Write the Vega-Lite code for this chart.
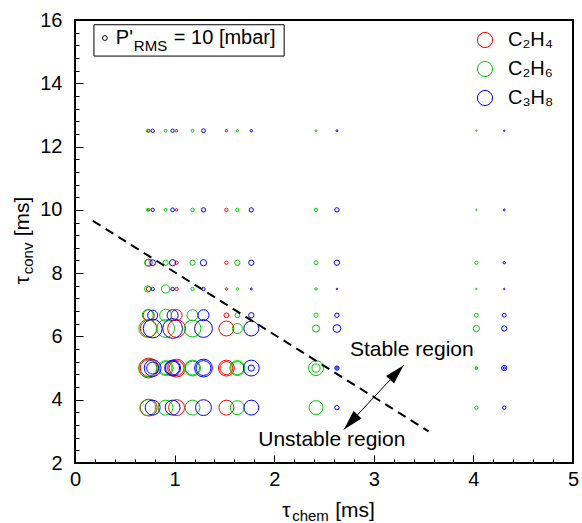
{
  "$schema": "https://vega.github.io/schema/vega-lite/v6.json",
  "width": 498,
  "height": 443,
  "autosize": {"type": "none"},
  "padding": {"left": 75, "top": 20, "right": 9, "bottom": 60},
  "background": "white",
  "config": {"font": "Liberation Sans", "view": {"stroke": "black", "strokeWidth": 2}},
  "datasets": {
    "points": [
      {"species": "C₂H₄", "tau_chem": 0.74, "tau_conv": 12.5, "p_rms": 6},
      {"species": "C₂H₄", "tau_chem": 1.02, "tau_conv": 12.5, "p_rms": 5},
      {"species": "C₂H₄", "tau_chem": 1.52, "tau_conv": 12.5, "p_rms": 5},
      {"species": "C₂H₆", "tau_chem": 0.73, "tau_conv": 12.5, "p_rms": 6},
      {"species": "C₂H₆", "tau_chem": 0.91, "tau_conv": 12.5, "p_rms": 6},
      {"species": "C₂H₆", "tau_chem": 1.18, "tau_conv": 12.5, "p_rms": 6},
      {"species": "C₂H₆", "tau_chem": 1.63, "tau_conv": 12.5, "p_rms": 4.5},
      {"species": "C₂H₆", "tau_chem": 2.42, "tau_conv": 12.5, "p_rms": 4},
      {"species": "C₂H₆", "tau_chem": 4.03, "tau_conv": 12.5, "p_rms": 3},
      {"species": "C₃H₈", "tau_chem": 0.78, "tau_conv": 12.5, "p_rms": 7},
      {"species": "C₃H₈", "tau_chem": 0.98, "tau_conv": 12.5, "p_rms": 7},
      {"species": "C₃H₈", "tau_chem": 1.29, "tau_conv": 12.5, "p_rms": 8},
      {"species": "C₃H₈", "tau_chem": 1.77, "tau_conv": 12.5, "p_rms": 5},
      {"species": "C₃H₈", "tau_chem": 2.63, "tau_conv": 12.5, "p_rms": 4},
      {"species": "C₃H₈", "tau_chem": 4.31, "tau_conv": 12.5, "p_rms": 3},

      {"species": "C₂H₄", "tau_chem": 0.74, "tau_conv": 10, "p_rms": 5},
      {"species": "C₂H₄", "tau_chem": 1.02, "tau_conv": 10, "p_rms": 5},
      {"species": "C₂H₄", "tau_chem": 1.52, "tau_conv": 10, "p_rms": 7},
      {"species": "C₂H₆", "tau_chem": 0.73, "tau_conv": 10, "p_rms": 6},
      {"species": "C₂H₆", "tau_chem": 0.91, "tau_conv": 10, "p_rms": 6},
      {"species": "C₂H₆", "tau_chem": 1.18, "tau_conv": 10, "p_rms": 7},
      {"species": "C₂H₆", "tau_chem": 1.63, "tau_conv": 10, "p_rms": 7},
      {"species": "C₂H₆", "tau_chem": 2.42, "tau_conv": 10, "p_rms": 7},
      {"species": "C₂H₆", "tau_chem": 4.03, "tau_conv": 10, "p_rms": 3},
      {"species": "C₃H₈", "tau_chem": 0.78, "tau_conv": 10, "p_rms": 7},
      {"species": "C₃H₈", "tau_chem": 0.98, "tau_conv": 10, "p_rms": 8},
      {"species": "C₃H₈", "tau_chem": 1.29, "tau_conv": 10, "p_rms": 9},
      {"species": "C₃H₈", "tau_chem": 1.77, "tau_conv": 10, "p_rms": 9},
      {"species": "C₃H₈", "tau_chem": 2.63, "tau_conv": 10, "p_rms": 9},
      {"species": "C₃H₈", "tau_chem": 4.31, "tau_conv": 10, "p_rms": 4},

      {"species": "C₂H₄", "tau_chem": 0.74, "tau_conv": 8.33, "p_rms": 15},
      {"species": "C₂H₄", "tau_chem": 1.02, "tau_conv": 8.33, "p_rms": 7},
      {"species": "C₂H₄", "tau_chem": 1.52, "tau_conv": 8.33, "p_rms": 7},
      {"species": "C₂H₆", "tau_chem": 0.73, "tau_conv": 8.33, "p_rms": 13},
      {"species": "C₂H₆", "tau_chem": 0.91, "tau_conv": 8.33, "p_rms": 11},
      {"species": "C₂H₆", "tau_chem": 1.18, "tau_conv": 8.33, "p_rms": 11},
      {"species": "C₂H₆", "tau_chem": 1.63, "tau_conv": 8.33, "p_rms": 11},
      {"species": "C₂H₆", "tau_chem": 2.42, "tau_conv": 8.33, "p_rms": 8},
      {"species": "C₂H₆", "tau_chem": 4.03, "tau_conv": 8.33, "p_rms": 7},
      {"species": "C₃H₈", "tau_chem": 0.78, "tau_conv": 8.33, "p_rms": 12},
      {"species": "C₃H₈", "tau_chem": 0.98, "tau_conv": 8.33, "p_rms": 13},
      {"species": "C₃H₈", "tau_chem": 1.29, "tau_conv": 8.33, "p_rms": 13},
      {"species": "C₃H₈", "tau_chem": 1.77, "tau_conv": 8.33, "p_rms": 11},
      {"species": "C₃H₈", "tau_chem": 2.63, "tau_conv": 8.33, "p_rms": 11},
      {"species": "C₃H₈", "tau_chem": 4.31, "tau_conv": 8.33, "p_rms": 5},

      {"species": "C₂H₄", "tau_chem": 0.74, "tau_conv": 7.5, "p_rms": 10},
      {"species": "C₂H₄", "tau_chem": 1.02, "tau_conv": 7.5, "p_rms": 7},
      {"species": "C₂H₄", "tau_chem": 1.52, "tau_conv": 7.5, "p_rms": 5},
      {"species": "C₂H₆", "tau_chem": 0.73, "tau_conv": 7.5, "p_rms": 13},
      {"species": "C₂H₆", "tau_chem": 0.91, "tau_conv": 7.5, "p_rms": 17},
      {"species": "C₂H₆", "tau_chem": 1.18, "tau_conv": 7.5, "p_rms": 7},
      {"species": "C₂H₆", "tau_chem": 1.63, "tau_conv": 7.5, "p_rms": 5},
      {"species": "C₂H₆", "tau_chem": 2.42, "tau_conv": 7.5, "p_rms": 5},
      {"species": "C₂H₆", "tau_chem": 4.03, "tau_conv": 7.5, "p_rms": 3},
      {"species": "C₃H₈", "tau_chem": 0.78, "tau_conv": 7.5, "p_rms": 7},
      {"species": "C₃H₈", "tau_chem": 0.98, "tau_conv": 7.5, "p_rms": 7},
      {"species": "C₃H₈", "tau_chem": 1.29, "tau_conv": 7.5, "p_rms": 7},
      {"species": "C₃H₈", "tau_chem": 1.77, "tau_conv": 7.5, "p_rms": 4},
      {"species": "C₃H₈", "tau_chem": 2.63, "tau_conv": 7.5, "p_rms": 3},
      {"species": "C₃H₈", "tau_chem": 4.31, "tau_conv": 7.5, "p_rms": 3},

      {"species": "C₂H₄", "tau_chem": 0.74, "tau_conv": 6.67, "p_rms": 23},
      {"species": "C₂H₄", "tau_chem": 1.02, "tau_conv": 6.67, "p_rms": 23},
      {"species": "C₂H₄", "tau_chem": 1.52, "tau_conv": 6.67, "p_rms": 10},
      {"species": "C₂H₆", "tau_chem": 0.73, "tau_conv": 6.67, "p_rms": 23},
      {"species": "C₂H₆", "tau_chem": 0.91, "tau_conv": 6.67, "p_rms": 25},
      {"species": "C₂H₆", "tau_chem": 1.18, "tau_conv": 6.67, "p_rms": 23},
      {"species": "C₂H₆", "tau_chem": 1.63, "tau_conv": 6.67, "p_rms": 10},
      {"species": "C₂H₆", "tau_chem": 2.42, "tau_conv": 6.67, "p_rms": 9},
      {"species": "C₂H₆", "tau_chem": 4.03, "tau_conv": 6.67, "p_rms": 8},
      {"species": "C₃H₈", "tau_chem": 0.78, "tau_conv": 6.67, "p_rms": 21},
      {"species": "C₃H₈", "tau_chem": 0.98, "tau_conv": 6.67, "p_rms": 23},
      {"species": "C₃H₈", "tau_chem": 1.29, "tau_conv": 6.67, "p_rms": 23},
      {"species": "C₃H₈", "tau_chem": 1.77, "tau_conv": 6.67, "p_rms": 11},
      {"species": "C₃H₈", "tau_chem": 2.63, "tau_conv": 6.67, "p_rms": 9},
      {"species": "C₃H₈", "tau_chem": 4.31, "tau_conv": 6.67, "p_rms": 8},

      {"species": "C₂H₄", "tau_chem": 0.74, "tau_conv": 6.25, "p_rms": 35},
      {"species": "C₂H₄", "tau_chem": 1.02, "tau_conv": 6.25, "p_rms": 37},
      {"species": "C₂H₄", "tau_chem": 1.52, "tau_conv": 6.25, "p_rms": 31},
      {"species": "C₂H₆", "tau_chem": 0.73, "tau_conv": 6.25, "p_rms": 37},
      {"species": "C₂H₆", "tau_chem": 0.91, "tau_conv": 6.25, "p_rms": 37},
      {"species": "C₂H₆", "tau_chem": 1.18, "tau_conv": 6.25, "p_rms": 35},
      {"species": "C₂H₆", "tau_chem": 1.63, "tau_conv": 6.25, "p_rms": 21},
      {"species": "C₂H₆", "tau_chem": 2.42, "tau_conv": 6.25, "p_rms": 15},
      {"species": "C₂H₆", "tau_chem": 4.03, "tau_conv": 6.25, "p_rms": 13},
      {"species": "C₃H₈", "tau_chem": 0.78, "tau_conv": 6.25, "p_rms": 39},
      {"species": "C₃H₈", "tau_chem": 0.98, "tau_conv": 6.25, "p_rms": 41},
      {"species": "C₃H₈", "tau_chem": 1.29, "tau_conv": 6.25, "p_rms": 37},
      {"species": "C₃H₈", "tau_chem": 1.77, "tau_conv": 6.25, "p_rms": 31},
      {"species": "C₃H₈", "tau_chem": 2.63, "tau_conv": 6.25, "p_rms": 16},
      {"species": "C₃H₈", "tau_chem": 4.31, "tau_conv": 6.25, "p_rms": 11},

      {"species": "C₂H₄", "tau_chem": 0.74, "tau_conv": 5, "p_rms": 41},
      {"species": "C₂H₄", "tau_chem": 0.74, "tau_conv": 5, "p_rms": 35},
      {"species": "C₂H₄", "tau_chem": 1.02, "tau_conv": 5, "p_rms": 37},
      {"species": "C₂H₄", "tau_chem": 1.02, "tau_conv": 5, "p_rms": 31},
      {"species": "C₂H₄", "tau_chem": 1.52, "tau_conv": 5, "p_rms": 33},
      {"species": "C₂H₄", "tau_chem": 1.52, "tau_conv": 5, "p_rms": 27},
      {"species": "C₂H₆", "tau_chem": 0.73, "tau_conv": 5, "p_rms": 37},
      {"species": "C₂H₆", "tau_chem": 0.91, "tau_conv": 5, "p_rms": 31},
      {"species": "C₂H₆", "tau_chem": 0.91, "tau_conv": 5, "p_rms": 27},
      {"species": "C₂H₆", "tau_chem": 1.18, "tau_conv": 5, "p_rms": 33},
      {"species": "C₂H₆", "tau_chem": 1.18, "tau_conv": 5, "p_rms": 29},
      {"species": "C₂H₆", "tau_chem": 1.63, "tau_conv": 5, "p_rms": 31},
      {"species": "C₂H₆", "tau_chem": 1.63, "tau_conv": 5, "p_rms": 27},
      {"species": "C₂H₆", "tau_chem": 2.42, "tau_conv": 5, "p_rms": 31},
      {"species": "C₂H₆", "tau_chem": 2.42, "tau_conv": 5, "p_rms": 17},
      {"species": "C₂H₆", "tau_chem": 4.03, "tau_conv": 5, "p_rms": 6},
      {"species": "C₂H₆", "tau_chem": 4.03, "tau_conv": 5, "p_rms": 4},
      {"species": "C₃H₈", "tau_chem": 0.78, "tau_conv": 5, "p_rms": 35},
      {"species": "C₃H₈", "tau_chem": 0.78, "tau_conv": 5, "p_rms": 25},
      {"species": "C₃H₈", "tau_chem": 0.98, "tau_conv": 5, "p_rms": 33},
      {"species": "C₃H₈", "tau_chem": 0.98, "tau_conv": 5, "p_rms": 29},
      {"species": "C₃H₈", "tau_chem": 1.29, "tau_conv": 5, "p_rms": 37},
      {"species": "C₃H₈", "tau_chem": 1.29, "tau_conv": 5, "p_rms": 31},
      {"species": "C₃H₈", "tau_chem": 1.77, "tau_conv": 5, "p_rms": 33},
      {"species": "C₃H₈", "tau_chem": 1.77, "tau_conv": 5, "p_rms": 13},
      {"species": "C₃H₈", "tau_chem": 2.63, "tau_conv": 5, "p_rms": 9},
      {"species": "C₃H₈", "tau_chem": 2.63, "tau_conv": 5, "p_rms": 5},
      {"species": "C₃H₈", "tau_chem": 4.31, "tau_conv": 5, "p_rms": 11},
      {"species": "C₃H₈", "tau_chem": 4.31, "tau_conv": 5, "p_rms": 5},

      {"species": "C₂H₄", "tau_chem": 0.74, "tau_conv": 3.75, "p_rms": 35},
      {"species": "C₂H₄", "tau_chem": 1.02, "tau_conv": 3.75, "p_rms": 33},
      {"species": "C₂H₄", "tau_chem": 1.52, "tau_conv": 3.75, "p_rms": 31},
      {"species": "C₂H₆", "tau_chem": 0.73, "tau_conv": 3.75, "p_rms": 33},
      {"species": "C₂H₆", "tau_chem": 0.91, "tau_conv": 3.75, "p_rms": 31},
      {"species": "C₂H₆", "tau_chem": 1.18, "tau_conv": 3.75, "p_rms": 31},
      {"species": "C₂H₆", "tau_chem": 1.63, "tau_conv": 3.75, "p_rms": 29},
      {"species": "C₂H₆", "tau_chem": 2.42, "tau_conv": 3.75, "p_rms": 29},
      {"species": "C₂H₆", "tau_chem": 4.03, "tau_conv": 3.75, "p_rms": 7},
      {"species": "C₃H₈", "tau_chem": 0.78, "tau_conv": 3.75, "p_rms": 31},
      {"species": "C₃H₈", "tau_chem": 0.98, "tau_conv": 3.75, "p_rms": 31},
      {"species": "C₃H₈", "tau_chem": 1.29, "tau_conv": 3.75, "p_rms": 33},
      {"species": "C₃H₈", "tau_chem": 1.77, "tau_conv": 3.75, "p_rms": 31},
      {"species": "C₃H₈", "tau_chem": 2.63, "tau_conv": 3.75, "p_rms": 9},
      {"species": "C₃H₈", "tau_chem": 4.31, "tau_conv": 3.75, "p_rms": 7}
    ],
    "box": [{"tau_chem": 0.19, "tau_chem2": 2.10, "tau_conv": 14.86, "tau_conv2": 15.85}],
    "pcircle": [{"tau_chem": 0.30, "tau_conv": 15.43, "p_rms": 10}],
    "ptext": [{"tau_chem": 0.41, "tau_conv": 15.24}],
    "dash": [{"tau_chem": 0.18, "tau_conv": 9.65}, {"tau_chem": 3.55, "tau_conv": 3.0}],
    "arrow": [{"tau_chem": 2.70, "tau_conv": 3.06}, {"tau_chem": 3.30, "tau_conv": 5.09}],
    "regions": [
      {"tau_chem": 2.76, "tau_conv": 5.38, "label": "Stable region"},
      {"tau_chem": 1.84, "tau_conv": 2.54, "label": "Unstable region"}
    ],
    "xt": [{"tau_chem": 2.08, "tau_conv": 0.3}],
    "yt": [{"tau_chem": -0.46, "tau_conv": 7.65}]
  },
  "encoding": {
    "x": {
      "field": "tau_chem", "type": "quantitative",
      "scale": {"domain": [0, 5], "nice": false, "zero": false},
      "axis": {
        "title": null, "grid": false, "domain": false, "offset": -8,
        "values": [0,0.2,0.4,0.6,0.8,1,1.2,1.4,1.6,1.8,2,2.2,2.4,2.6,2.8,3,3.2,3.4,3.6,3.8,4,4.2,4.4,4.6,4.8,5],
        "labelExpr": "datum.value % 1 === 0 ? format(datum.value, 'd') : ''",
        "ticks": true, "tickSize": 8, "tickWidth": 1, "tickColor": "#000000", "tickOpacity": 1,
        "tickDash": {"condition": {"test": "datum.value % 1 !== 0", "value": [0, 4, 4, 4]}, "value": [8, 0]},
        "labelFontSize": 20, "labelColor": "black", "labelPadding": 6,
        "labelOverlap": false, "labelFlush": false
      }
    },
    "y": {
      "field": "tau_conv", "type": "quantitative",
      "scale": {"domain": [2, 16], "nice": false, "zero": false},
      "axis": {
        "title": null, "grid": false, "domain": false, "offset": -8,
        "values": [2,2.4,2.8,3.2,3.6,4,4.4,4.8,5.2,5.6,6,6.4,6.8,7.2,7.6,8,8.4,8.8,9.2,9.6,10,10.4,10.8,11.2,11.6,12,12.4,12.8,13.2,13.6,14,14.4,14.8,15.2,15.6,16],
        "labelExpr": "datum.value % 2 === 0 ? format(datum.value, 'd') : ''",
        "ticks": true, "tickSize": 8, "tickWidth": 1, "tickColor": "#000000", "tickOpacity": 1,
        "tickDash": {"condition": {"test": "datum.value % 2 !== 0", "value": [0, 4, 4, 4]}, "value": [8, 0]},
        "labelFontSize": 20, "labelColor": "black", "labelPadding": 13,
        "labelOverlap": false, "labelFlush": false
      }
    }
  },
  "layer": [
    {
      "data": {"name": "points"},
      "mark": {"type": "point", "shape": "circle", "filled": false, "strokeWidth": 1, "opacity": 1},
      "encoding": {
        "color": {
          "field": "species", "type": "nominal",
          "scale": {"domain": ["C₂H₄", "C₂H₆", "C₃H₈"], "range": ["#ff0000", "#00cc00", "#0000ff"]},
          "legend": {
            "title": null, "orient": "none", "legendX": 400, "legendY": 10, "padding": 0,
            "symbolType": "circle", "symbolSize": 230, "symbolStrokeWidth": 1,
            "labelFontSize": 20, "labelColor": "black", "labelOffset": 13, "rowPadding": 9
          }
        },
        "size": {
          "field": "p_rms", "type": "quantitative",
          "scale": {"type": "pow", "exponent": 2, "domain": [0, 40], "range": [0, 370]},
          "legend": null
        }
      }
    },
    {
      "data": {"name": "box"},
      "mark": {"type": "rect", "fill": "white", "stroke": "black", "strokeWidth": 1},
      "encoding": {
        "x2": {"field": "tau_chem2"},
        "y2": {"field": "tau_conv2"}
      }
    },
    {
      "data": {"name": "pcircle"},
      "mark": {"type": "point", "shape": "circle", "filled": false, "strokeWidth": 1, "color": "black", "opacity": 1},
      "encoding": {
        "size": {"field": "p_rms", "type": "quantitative", "scale": {"type": "pow", "exponent": 2, "domain": [0, 40], "range": [0, 370]}, "legend": null}
      }
    },
    {
      "data": {"name": "ptext"},
      "mark": {"type": "text", "text": "P'", "fontSize": 20, "align": "left", "baseline": "alphabetic", "color": "black"}
    },
    {
      "data": {"name": "ptext"},
      "mark": {"type": "text", "text": "RMS", "fontSize": 15, "align": "left", "baseline": "alphabetic", "dx": 18, "dy": 7, "color": "black"}
    },
    {
      "data": {"name": "ptext"},
      "mark": {"type": "text", "text": "= 10 [mbar]", "fontSize": 20, "align": "left", "baseline": "alphabetic", "dx": 58, "color": "black"}
    },
    {
      "data": {"name": "dash"},
      "mark": {"type": "line", "color": "black", "strokeWidth": 2, "strokeDash": [9, 6]}
    },
    {
      "data": {"name": "arrow"},
      "mark": {"type": "line", "color": "black", "strokeWidth": 1}
    },
    {
      "data": {"name": "arrow"},
      "transform": [{"filter": "datum.tau_chem > 3"}],
      "mark": {"type": "point", "shape": "M0,0L0.55,2L-0.55,2Z", "filled": true, "color": "black", "size": 400, "angle": 43, "opacity": 1, "strokeWidth": 0}
    },
    {
      "data": {"name": "arrow"},
      "transform": [{"filter": "datum.tau_chem < 3"}],
      "mark": {"type": "point", "shape": "M0,0L0.55,2L-0.55,2Z", "filled": true, "color": "black", "size": 400, "angle": 223, "opacity": 1, "strokeWidth": 0}
    },
    {
      "data": {"name": "regions"},
      "mark": {"type": "text", "fontSize": 21, "align": "left", "baseline": "alphabetic", "color": "black"},
      "encoding": {"text": {"field": "label", "type": "nominal"}}
    },
    {
      "data": {"name": "xt"},
      "mark": {"type": "text", "text": "τ", "fontSize": 21, "align": "left", "baseline": "alphabetic", "color": "black"}
    },
    {
      "data": {"name": "xt"},
      "mark": {"type": "text", "text": "chem", "fontSize": 15, "align": "left", "baseline": "alphabetic", "dx": 10, "dy": 4, "color": "black"}
    },
    {
      "data": {"name": "xt"},
      "mark": {"type": "text", "text": "[ms]", "fontSize": 21, "align": "left", "baseline": "alphabetic", "dx": 53, "color": "black"}
    },
    {
      "data": {"name": "yt"},
      "mark": {"type": "text", "text": "τ", "fontSize": 21, "align": "left", "baseline": "alphabetic", "angle": 270, "color": "black"}
    },
    {
      "data": {"name": "yt"},
      "mark": {"type": "text", "text": "conv", "fontSize": 15, "align": "left", "baseline": "alphabetic", "angle": 270, "dx": 10, "dy": 4, "color": "black"}
    },
    {
      "data": {"name": "yt"},
      "mark": {"type": "text", "text": "[ms]", "fontSize": 21, "align": "left", "baseline": "alphabetic", "angle": 270, "dx": 48, "color": "black"}
    }
  ]
}
